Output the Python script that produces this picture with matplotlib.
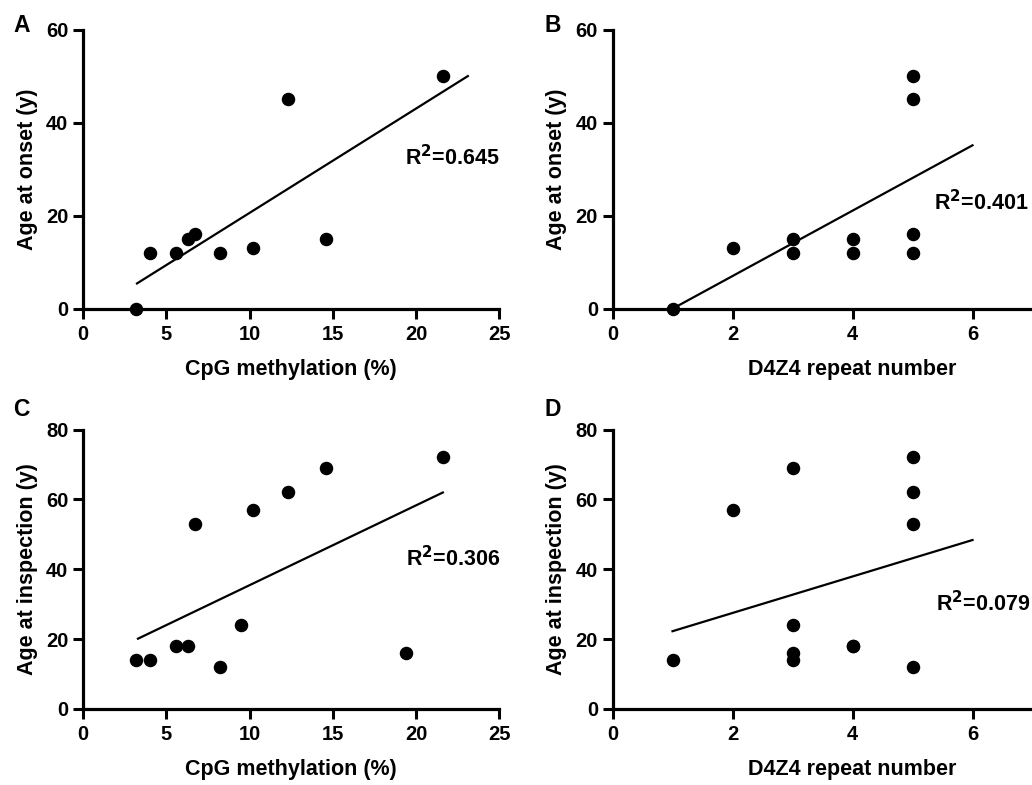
import numpy as np
import matplotlib.pyplot as plt

# CpG methylation (%) vs age at onset (panel A)
meth_onset_x = [3.2, 4.0, 5.6, 6.3, 6.7, 8.2, 10.2, 12.3, 14.6, 21.6]
meth_onset_y = [0, 12, 12, 15, 16, 12, 13, 45, 15, 50]

# D4Z4 repeat number vs age at onset (panel B)
rep_onset_x = [1, 2, 3, 3, 4, 4, 5, 5, 5, 5]
rep_onset_y = [0, 13, 15, 12, 15, 12, 50, 45, 16, 12]

# CpG methylation (%) vs age at inspection (panel C)
meth_insp_x = [3.2, 4.0, 5.6, 6.3, 6.7, 8.2, 9.5, 10.2, 12.3, 14.6, 19.4, 21.6]
meth_insp_y = [14, 14, 18, 18, 53, 12, 24, 57, 62, 69, 16, 72]

# D4Z4 repeat number vs age at inspection (panel D)
rep_insp_x = [1, 2, 3, 3, 3, 3, 4, 4, 5, 5, 5, 5]
rep_insp_y = [14, 57, 69, 24, 16, 14, 18, 18, 72, 62, 53, 12]

r2_labels = ["0.645", "0.401", "0.306", "0.079"]
panel_letters = ["A", "B", "C", "D"]

plt.rcParams['font.family'] = ['Liberation Sans', 'DejaVu Sans']
plt.rcParams['font.weight'] = 'bold'

W, H = 1032, 785
fig = plt.figure(figsize=(W / 100, H / 100), dpi=100)


def px_axes(left, top, right, bottom):
    return fig.add_axes([left / W, 1 - bottom / H, (right - left) / W, (bottom - top) / H])


# repeat-number panels run to 8 on the x axis; the figure is cropped around 7
panels = [
    dict(x=meth_onset_x, y=meth_onset_y, box=(83, 29.5, 499.5, 309), xlim=(0, 25), xt=range(0, 26, 5),
         ylim=(0, 60), yt=range(0, 61, 20), fit=(3.24, 23.1), xlab="CpG methylation (%)",
         ylab="Age at onset (y)", r2pos=(19.3, 32.5), letter=(13, 26)),
    dict(x=rep_onset_x, y=rep_onset_y, box=(612.5, 29.5, 1092.5, 309), xlim=(0, 8), xt=range(0, 7, 2),
         ylim=(0, 60), yt=range(0, 61, 20), fit=(1, 6), xlab="D4Z4 repeat number",
         ylab="Age at onset (y)", r2pos=(5.36, 22.8), letter=(544, 26)),
    dict(x=meth_insp_x, y=meth_insp_y, box=(83, 429.5, 499.5, 709), xlim=(0, 25), xt=range(0, 26, 5),
         ylim=(0, 80), yt=range(0, 81, 20), fit=(3.3, 21.6), xlab="CpG methylation (%)",
         ylab="Age at inspection (y)", r2pos=(19.4, 43.1), letter=(13, 410)),
    dict(x=rep_insp_x, y=rep_insp_y, box=(612.5, 429.5, 1092.5, 709), xlim=(0, 8), xt=range(0, 7, 2),
         ylim=(0, 80), yt=range(0, 81, 20), fit=(1, 6), xlab="D4Z4 repeat number",
         ylab="Age at inspection (y)", r2pos=(5.39, 30.3), letter=(544, 410)),
]

for p, r2, letter in zip(panels, r2_labels, panel_letters):
    ax = px_axes(*p['box'])
    x = np.array(p['x'], dtype=float)
    y = np.array(p['y'], dtype=float)
    slope, icpt = np.polyfit(x, y, 1)
    fx = np.array(p['fit'])
    ax.plot(fx, slope * fx + icpt, color='black', lw=1.6, zorder=2)
    ax.plot(x, y, 'o', color='black', ms=8.7, clip_on=False, zorder=3)
    ax.set_xlim(*p['xlim'])
    ax.set_ylim(*p['ylim'])
    ax.set_xticks(list(p['xt']))
    ax.set_yticks(list(p['yt']))
    for s in ['top', 'right']:
        ax.spines[s].set_visible(False)
    for s in ['left', 'bottom']:
        ax.spines[s].set_linewidth(2.3)
    ax.tick_params(width=2.2, length=7, labelsize=14.5)
    ax.tick_params(axis='x', pad=4.5)
    ax.tick_params(axis='y', pad=3.5)
    ax.set_xlabel(p['xlab'], fontsize=15.5, fontweight='bold', labelpad=11)
    ax.set_ylabel(p['ylab'], fontsize=15.5, fontweight='bold', labelpad=6)
    ax.text(p['r2pos'][0], p['r2pos'][1], "R$^\\mathbf{2}$=" + r2, fontsize=15.5,
            fontweight='bold', va='center', ha='left')
    fig.text(p['letter'][0] / W, 1 - p['letter'][1] / H, letter, fontsize=16.5,
             fontweight='bold', va='center', ha='left')

fig.savefig('out.png', dpi=100)
